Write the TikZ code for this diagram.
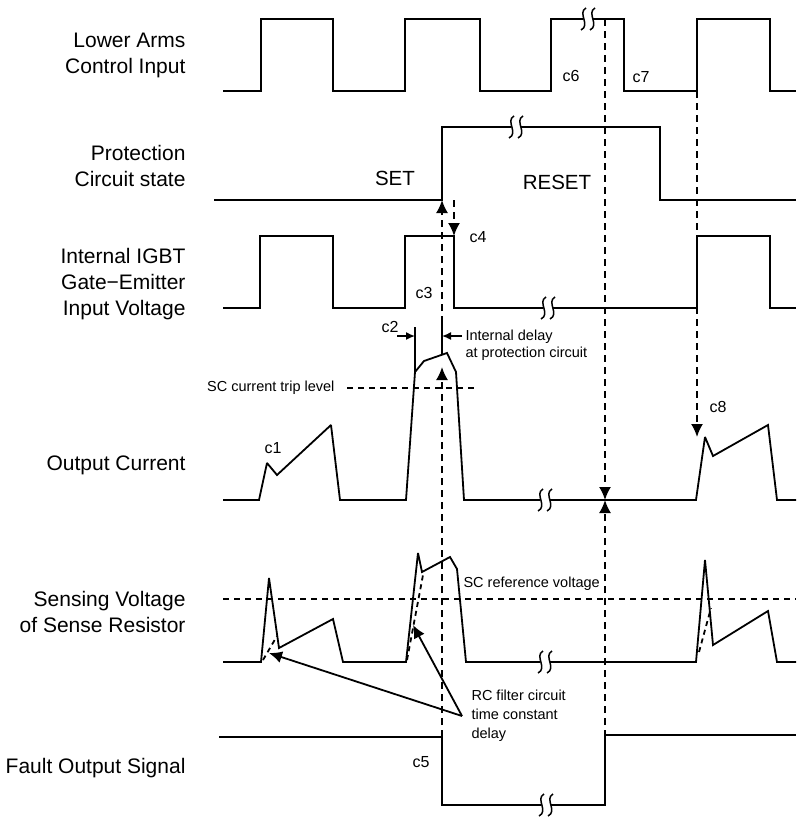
\documentclass[tikz,border=0pt]{standalone}
\usepackage{fontspec}
\setmainfont{Liberation Sans}
\usetikzlibrary{arrows.meta, positioning}

\tikzset{
  sig/.style={line width=1.8pt, miter limit=2},
  guide/.style={line width=1.8pt, dash pattern=on 7pt off 5pt},
  lbl/.style={font=\fontsize{21}{26}\selectfont, align=right, anchor=east},
  tag/.style={font=\fontsize{16}{18}\selectfont},
  note/.style={font=\fontsize{14.5}{17}\selectfont, align=left},
}

% break mark on a signal line
\newcommand{\brk}[2]{%
  \fill[white] (#1-5,#2-5) rectangle (#1+5,#2+5);
  \draw[line width=1.5pt] (#1-2,#2-11) .. controls (#1-11,#2-6) and (#1+3,#2+6) .. (#1-7,#2+11);
  \draw[line width=1.5pt] (#1+7,#2-11) .. controls (#1-2,#2-6) and (#1+12,#2+6) .. (#1+2,#2+11);
}

\begin{document}
\begin{tikzpicture}[>={Latex[length=13pt,width=12pt]}, x=1pt, y=-1pt]
    \useasboundingbox (0,0) rectangle (796,819);

    % 1. Signal names
    \node[lbl] (nIn)   at (189,55)  {Lower Arms\\Control Input};
    \node[lbl] (nProt) at (189,166) {Protection\\Circuit state};
    \node[lbl] (nGate) at (189,284) {Internal IGBT\\Gate−Emitter\\Input Voltage};
    \node[lbl] (nCur)  at (189,465) {Output Current};
    \node[lbl] (nSens) at (189,612) {Sensing Voltage\\of Sense Resistor};
    \node[lbl] (nFlt)  at (189,768) {Fault Output Signal};

    % 2. Waveforms
    \draw[sig] (223,91) -| (261,19) -| (333,91) -| (405,19) -| (480,91) -| (551,19)
        -| (624,91) -| (697,19) -| (770,91) -- (796,91);
    \draw[sig] (214,200) -| (442,127) -| (660,200) -- (796,200);
    \draw[sig] (223,308) -| (260,236) -| (333,308) -| (405,236) -| (454,308)
        -| (697,236) -| (770,308) -- (796,308);
    \draw[sig] (223,500) -- (259,500) -- (267,463) -- (277,475) -- (331,425) -- (340,500)
        -- (406,500) -- (415,372) -- (424,361) -- (447,353) -- (456,372) -- (464,500)
        -- (696,500) -- (705,437) -- (713,456) -- (768,425) -- (777,500) -- (796,500);
    \draw[sig] (223,662) -- (261,662) -- (269,578) -- (279,648) -- (333,619) -- (343,662)
        -- (406,662) -- (418,553) -- (422,572) -- (450,557) -- (457,569) -- (466,662)
        -- (696,662) -- (705,560) -- (713,645) -- (768,611) -- (777,662) -- (796,662);
    \draw[sig] (219,737) -| (442,805) -| (605,735) -- (796,735);

    % 3. Breaks
    \foreach \bx/\by in {588/19, 516/127, 548/308, 545/500, 545/662, 546/805}
        \brk{\bx}{\by};

    % 4. Levels and slow edges
    \draw[guide, dash pattern=on 6pt off 5pt] (347,388) -- (475,388);
    \draw[guide, dash pattern=on 6pt off 5pt] (223,599) -- (796,599);
    \draw[guide, dash pattern=on 5pt off 4pt] (263,660) -- (277,636);
    \draw[guide, dash pattern=on 5pt off 4pt] (407,660) -- (423,575);
    \draw[guide, dash pattern=on 5pt off 4pt] (699,652) -- (711,608);

    % 5. Cause and effect
    \coordinate (setpt) at (442,200);
    \coordinate (dlyB)  at (442,323);
    \coordinate (offA)  at (454,200);
    \coordinate (offB)  at (454,236);
    \coordinate (fltA)  at (442,737);
    \coordinate (curA)  at (442,367);
    \coordinate (brkA)  at (605,19);
    \coordinate (curB)  at (605,500);
    \coordinate (fltB)  at (605,737);
    \coordinate (inB)   at (697,91);
    \coordinate (curC)  at (697,437);
    \draw[guide,->] (dlyB) -- (setpt);
    \draw[guide,->] (offA) -- (offB);
    \draw[guide,->] (fltA) -- (curA);
    \draw[guide,->] (brkA) -- (curB);
    \draw[guide,->] (fltB) -- (curB);
    \draw[guide,->] (inB) -- (curC);

    % 6. Delay marks
    \coordinate (dlyA) at (415,327);
    \coordinate (dlyC) at (442,336);
    \coordinate (dlyD) at (415,336);
    \draw[sig] (dlyA) -- (415,372);
    \draw[sig] (dlyB) -- (442,355);
    \draw[line width=1.5pt, ->, >={Latex[length=9pt,width=8pt]}] (397,336) -- (dlyD);
    \draw[line width=1.5pt, ->, >={Latex[length=9pt,width=8pt]}] (462,336) -- (dlyC);

    % 7. RC filter pointers
    \coordinate (rcsrc) at (462,716);
    \draw[line width=1.8pt, ->] (rcsrc) -- (269,653);
    \draw[line width=1.8pt, ->] (rcsrc) -- (413,625);

    % 8. Texts
    \node[font=\fontsize{20.5}{24}\selectfont] (tSet)   at (395,178) {SET};
    \node[font=\fontsize{20.5}{24}\selectfont] (tReset) at (557,182) {RESET};
    \node[tag] (c1) at (273,448) {c1};
    \node[tag] (c2) at (390,327) {c2};
    \node[tag] (c3) at (424,293) {c3};
    \node[tag] (c4) at (478,237) {c4};
    \node[tag] (c5) at (421,762) {c5};
    \node[tag] (c6) at (571,76)  {c6};
    \node[tag] (c7) at (641,77)  {c7};
    \node[tag] (c8) at (718,407) {c8};
    \node[note, anchor=east] (tTrip) at (338,388) {SC current trip level};
    \node[note, anchor=west] (tRef)  at (460,584) {SC reference voltage};
    \node[note, anchor=west] (tDly)  at (462,345) {Internal delay\\at protection circuit};
    \node[note, anchor=west, font=\fontsize{14.5}{19}\selectfont] (tRC) at (468,716)
        {RC filter circuit\\time constant\\delay};
\end{tikzpicture}
\end{document}
